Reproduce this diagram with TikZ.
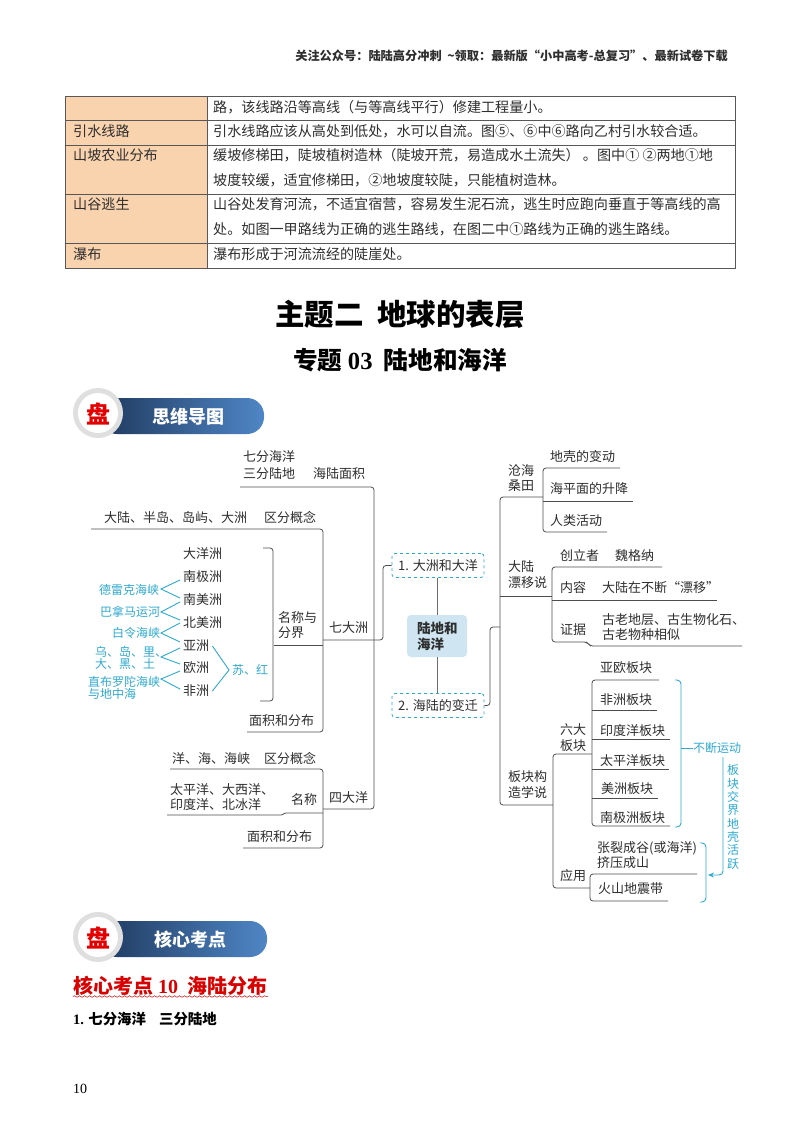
\documentclass[tikz,border=0pt]{standalone}
\usepackage{fontspec}
\setmainfont{Noto Sans CJK SC}
\newfontfamily\latn{Liberation Serif}
\usetikzlibrary{decorations.pathmorphing,arrows.meta}
\definecolor{ink}{HTML}{2E2E2E}
\definecolor{tealb}{HTML}{2FA9CF}
\definecolor{peach}{HTML}{F9D2AE}
\definecolor{bubble}{HTML}{CFE6F2}
\definecolor{barL}{HTML}{1F3A5F}
\definecolor{barR}{HTML}{4F86C6}
\tikzset{
 x=1pt,y=-1pt,
 tt/.style={anchor=west,inner sep=0pt,text=ink,font=\fontsize{14.1}{16}\selectfont,text height=12pt,text depth=2pt},
 mm/.style={anchor=west,inner sep=0pt,text=ink,font=\fontsize{13}{15}\selectfont,text height=11pt,text depth=2pt},
 bl/.style={anchor=west,inner sep=0pt,text=tealb,font=\fontsize{12}{13}\selectfont,text height=10pt,text depth=2pt},
 ln/.style={draw=ink!85,line width=0.8pt,rounded corners=3pt},
 bll/.style={draw=tealb,line width=0.9pt},
 blc/.style={draw=tealb,line width=0.9pt,rounded corners=4pt},
 dashbox/.style={draw=tealb,dashed,line width=0.8pt,rounded corners=3pt,fill=white,inner sep=0pt,text=ink,font=\fontsize{13}{15}\selectfont,minimum width=92pt,minimum height=24pt},
 bartext/.style={inner sep=0pt,text=white,font=\fontsize{18}{20}\selectfont\bfseries},
 pan/.style={inner sep=0pt,text=red!90!black,font=\fontsize{24}{26}\selectfont\bfseries},
}
\begin{document}
\begin{tikzpicture}
\useasboundingbox (0,0) rectangle (800,1132);
\fill[white] (0,0) rectangle (800,1132);
% header
\node[anchor=east,inner sep=0pt,text=ink,font=\fontsize{12.2}{14}\selectfont\bfseries] (hdr) at (728,56) {关注公众号：陆陆高分冲刺\ \ \textasciitilde 领取：最新版“小中高考-总复习”、最新试卷下载};
% table
\fill[peach] (65,96) rectangle (207,268);
\draw[ink!80,line width=0.9pt] (65,96) rectangle (735,268);
\foreach \yy in {120,145,194,243} \draw[ink!80,line width=0.9pt] (65,\yy) -- (735,\yy);
\draw[ink!80,line width=0.9pt] (207,96) -- (207,268);
\node[tt] (r1) at (213,107) {路，该线路沿等高线（与等高线平行）修建工程量小。};
\node[tt] (l2) at (73,131) {引水线路};
\node[tt] (r2) at (213,131) {引水线路应该从高处到低处，水可以自流。图⑤、⑥中⑥路向乙村引水较合适。};
\node[tt] (l3) at (73,155) {山坡农业分布};
\node[tt] (r3) at (213,155) {缓坡修梯田，陡坡植树造林（陡坡开荒，易造成水土流失）\ 。图中①\ ②两地①地};
\node[tt] (r3b) at (213,180) {坡度较缓，适宜修梯田，②地坡度较陡，只能植树造林。};
\node[tt] (l4) at (73,204) {山谷逃生};
\node[tt] (r4) at (213,204) {山谷处发育河流，不适宜宿营，容易发生泥石流，逃生时应跑向垂直于等高线的高};
\node[tt] (r4b) at (213,229) {处。如图一甲路线为正确的逃生路线，在图二中①路线为正确的逃生路线。};
\node[tt] (l5) at (73,254) {瀑布};
\node[tt] (r5) at (213,254) {瀑布形成于河流流经的陡崖处。};
% titles
\node[inner sep=0pt,text=black,font=\fontsize{29.5}{31}\selectfont\bfseries] (t1) at (400,314) {主题二\ \ 地球的表层};
\node[inner sep=0pt,text=black,font=\fontsize{24.6}{26}\selectfont\bfseries] (t2) at (400,360) {专题 {\latn 03}\ \ 陆地和海洋};
% banner 1
\shade[left color=barL,right color=barR,rounded corners=17pt] (100,398) -- (264,398) -- (264,434) -- (100,434) -- cycle;
\fill[gray!25] (98,413) circle (25);
\fill[white] (98,413) circle (20);
\node[pan] (p1) at (98,414) {盘};
\node[bartext] (b1) at (188,417) {思维导图};
% banner 2
\shade[left color=barL,right color=barR,rounded corners=17pt] (100,921) -- (267,921) -- (267,957) -- (100,957) -- cycle;
\fill[gray!25] (98,937) circle (25);
\fill[white] (98,937) circle (20);
\node[pan] (p2) at (98,938) {盘};
\node[bartext] (b2) at (190,940) {核心考点};
% bottom text
\node[anchor=west,inner sep=0pt,text=red!85!black,font=\fontsize{20}{22}\selectfont\bfseries] (h10) at (73,986) {核心考点{\latn\ 10}\ \ 海陆分布};
\draw[red!80!black,line width=0.5pt,decorate,decoration={snake,amplitude=0.8pt,segment length=5pt}] (73,996.5) -- (268,996.5);
\node[anchor=west,inner sep=0pt,text=black,font=\fontsize{14.4}{16}\selectfont\bfseries] (s1) at (73,1019) {{\latn 1.} 七分海洋\ \ \ \ 三分陆地};
\node[anchor=west,inner sep=0pt,text=black,font=\latn\fontsize{14}{16}\selectfont] (pg) at (73,1089) {10};
% central nodes
\node[fill=bubble,rounded corners=4pt,minimum width=60pt,minimum height=42pt,inner sep=0pt] (cen) at (437,636) {};
\node[mm,font=\fontsize{13.5}{15}\selectfont\bfseries] (cen1) at (417,629) {陆地和};
\node[mm,font=\fontsize{13.5}{15}\selectfont\bfseries] (cen2) at (417,645) {海洋};
\node[dashbox] (bx1) at (438,565.5) {1. 大洲和大洋};
\node[dashbox] (bx2) at (438,705.5) {2. 海陆的变迁};
\draw[ink!70,line width=0.8pt] (bx1.south -| cen.north) -- (cen.north);
\draw[ink!70,line width=0.8pt] (cen.south) -- (bx2.north -| cen.south);
% named connector ends, left side
\coordinate (trL) at (374,640);
\coordinate (qi) at (323,640);
\coordinate (si) at (323,809);
\coordinate (top) at (240,487);
\coordinate (a1) at (91,529);
\coordinate (a2) at (247,732);
\coordinate (a3) at (274,645);
\coordinate (b0) at (170,769);
\coordinate (b1e) at (243,848);
\coordinate (b2a) at (167,815);
\coordinate (br1) at (263,548);
\coordinate (br2) at (260,701);
% left branches
\draw[ln] (top) -- (374,487) -- (374,809) -- (si);
\draw[ln] (qi) -- (trL) -- (383,640) -- (383,565.5) -- (bx1.west);
\draw[ln] (a1) -- (323,529) -- (323,732) -- (a2);
\draw[ln] (a3) -- (qi |- a3);
\draw[ln] (b0) -- (323,769) -- (323,848) -- (b1e);
\draw[ln,rounded corners=1pt] (b2a) -- (282,815) -- (285,813) -- (323,813);
\draw[ln] (br1) -- (273,548) -- (273,701) -- (br2);
% left text
\node[mm] (n1) at (243,457) {七分海洋};
\node[mm] (n2) at (243,474) {三分陆地};
\node[mm] (n3) at (313,474) {海陆面积};
\node[mm] (n4) at (104,518) {大陆、半岛、岛屿、大洲};
\node[mm] (n5) at (264,518) {区分概念};
\node[mm] (n6) at (278,618) {名称与};
\node[mm] (n7) at (278,633) {分界};
\node[mm] (n8) at (329,628) {七大洲};
\node[mm] (n9) at (249,721) {面积和分布};
\node[mm] (c1) at (183,554) {大洋洲};
\node[mm] (c2) at (183,577) {南极洲};
\node[mm] (c3) at (183,600) {南美洲};
\node[mm] (c4) at (183,623) {北美洲};
\node[mm] (c5) at (183,646) {亚洲};
\node[mm] (c6) at (183,668) {欧洲};
\node[mm] (c7) at (183,691) {非洲};
\node[mm] (o1) at (172,759) {洋、海、海峡};
\node[mm] (o2) at (264,759) {区分概念};
\node[mm] (o3) at (170,790) {太平洋、大西洋、};
\node[mm] (o4) at (170,805) {印度洋、北冰洋};
\node[mm] (o5) at (291,800) {名称};
\node[mm] (o6) at (247,837) {面积和分布};
\node[mm] (o7) at (329,798) {四大洋};
% blue left
\node[bl] (d1) at (99,590) {德雷克海峡};
\node[bl] (d2) at (100,612) {巴拿马运河};
\node[bl] (d3) at (112,633) {白令海峡};
\node[bl] (d4) at (95,652) {乌、岛、里、};
\node[bl] (d5) at (95,664) {大、黑、土};
\node[bl] (d6) at (88,682) {直布罗陀海峡};
\node[bl] (d7) at (88,694) {与地中海};
\node[bl] (d8) at (232,670) {苏、红};
\coordinate (v1) at (161,589); \coordinate (v2) at (161,612); \coordinate (v3) at (161,633);
\coordinate (v4) at (161,657); \coordinate (v5) at (161,679); \coordinate (v6) at (229,670);
\draw[bll] ([xshift=-3pt,yshift=-3pt]c2.west) -- (v1) -- ([xshift=-3pt,yshift=2pt]c3.west);
\draw[bll] ([xshift=-3pt,yshift=-2pt]c3.west) -- (v2) -- ([xshift=-3pt,yshift=3pt]c4.west);
\draw[bll] (c4.west) ++(-3,0) -- (v3) -- ([xshift=-3pt,yshift=4pt]c5.west);
\draw[bll] ([xshift=-3pt,yshift=-2pt]c5.west) -- (v4) -- ([xshift=-3pt,yshift=4pt]c6.west);
\draw[bll] ([xshift=-3pt,yshift=-3pt]c6.west) -- (v5) -- ([xshift=-3pt,yshift=2pt]c7.west);
\draw[bll] ([xshift=3pt]c5.east) -- (v6) -- ([xshift=3pt]c7.east);
% right side connectors
\coordinate (mT) at (543,497);
\coordinate (mC) at (552,596);
\coordinate (mP) at (553,805);
\draw[ln] (bx2.east) -- (490,705.5) -- (490,627) -- (500,627);
\draw[ln] (mT) -- (500,497) -- (500,805) -- (mP);
\draw[ln] (500,596) -- (mC);
\coordinate (u1) at (620,468); \coordinate (u2) at (633,501); \coordinate (u3) at (607,532);
\draw[ln] (u1) -- (543,468) -- (543,532) -- (u3);
\draw[ln] (543,501) -- (u2);
\coordinate (w1) at (662,567); \coordinate (w2) at (717,600); \coordinate (w3) at (742,646);
\draw[ln] (w1) -- (552,567) -- (552,642) -- (587,642) -- (590,646) -- (w3);
\draw[ln] (552,600) -- (w2);
\coordinate (x1) at (659,680); \coordinate (x2) at (657,710); \coordinate (x3) at (670,739);
\coordinate (x4) at (669,769); \coordinate (x5) at (658,798); \coordinate (x6) at (670,826);
\draw[ln] (x1) -- (592,680) -- (592,826) -- (x6);
\draw[ln] (592,710) -- (x2);
\draw[ln] (592,739) -- (x3);
\draw[ln] (592,769) -- (x4);
\draw[ln] (592,798) -- (x5);
\coordinate (y1) at (697,874); \coordinate (y2) at (668,901);
\draw[ln] (592,754) -- (553,754) -- (553,888) -- (590,888);
\draw[ln] (y1) -- (590,874) -- (590,901) -- (y2);
% right text
\node[mm] (e1) at (508,471) {沧海};
\node[mm] (e2) at (508,486) {桑田};
\node[mm] (e3) at (550,457) {地壳的变动};
\node[mm] (e4) at (550,489) {海平面的升降};
\node[mm] (e5) at (550,521) {人类活动};
\node[mm] (f1) at (508,567) {大陆};
\node[mm] (f2) at (508,583) {漂移说};
\node[mm] (f3) at (560,556) {创立者};
\node[mm] (f4) at (615,556) {魏格纳};
\node[mm] (f5) at (560,588) {内容};
\node[mm] (f6) at (602,588) {大陆在不断“漂移”};
\node[mm] (f7) at (560,630) {证据};
\node[mm] (f8) at (602,620) {古老地层、古生物化石、};
\node[mm] (f9) at (602,635) {古老物种相似};
\node[mm] (g1) at (600,668) {亚欧板块};
\node[mm] (g2) at (600,700) {非洲板块};
\node[mm] (g3) at (600,731) {印度洋板块};
\node[mm] (g4) at (600,761) {太平洋板块};
\node[mm] (g5) at (601,789) {美洲板块};
\node[mm] (g6) at (600,818) {南极洲板块};
\node[mm] (g7) at (560,730) {六大};
\node[mm] (g8) at (560,746) {板块};
\node[mm] (g9) at (508,777) {板块构};
\node[mm] (g10) at (508,793) {造学说};
\node[mm] (g11) at (560,876) {应用};
\node[mm] (g12) at (597,848) {张裂成谷(或海洋)};
\node[mm] (g13) at (597,863) {挤压成山};
\node[mm] (g14) at (598,889) {火山地震带};
% blue right
\node[bl] (k1) at (693,748) {不断运动};
\node[inner sep=0pt,align=center,text=tealb,font=\fontsize{12}{13.3}\selectfont] (k2) at (733,817) {板\\块\\交\\界\\地\\壳\\活\\跃};
\draw[blc] (675,680) -- (681,680) -- (681,827) -- (675,827);
\draw[bll] (681,748) -- (k1.west);
\draw[blc] (700,843) -- (706,843) -- (706,902) -- (700,902);
\coordinate (ar) at (708,875);
\draw[blc,-{Stealth[length=6pt,width=5pt]}] (723,757) -- (723,875) -- (ar);
\end{tikzpicture}
\end{document}
